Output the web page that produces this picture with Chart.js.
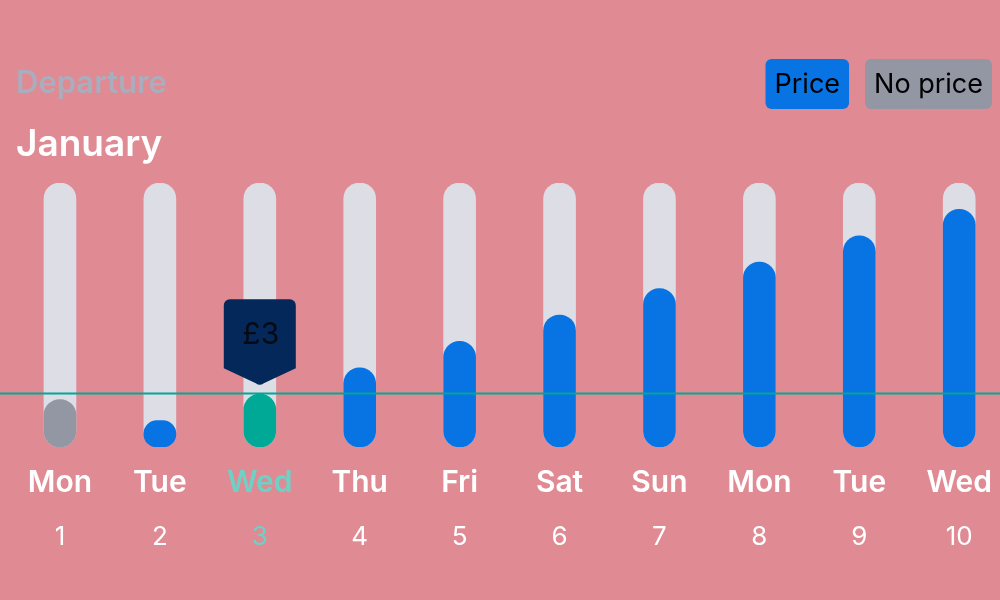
<!DOCTYPE html>
<html>
<head>
<meta charset="utf-8">
<script src="https://cdn.jsdelivr.net/npm/chart.js@4/dist/chart.umd.min.js"></script>
<style>
  html, body { margin: 0; padding: 0; background: #e08a93; overflow: hidden; width: 1000px; height: 600px; }
  #wrap { position: relative; width: 1010px; height: 600px; }
</style>
</head>
<body>
<div id="wrap"><canvas id="c" width="1010" height="600"></canvas></div>
<script>
// ---- data ----
const dayNames = ['Mon', 'Tue', 'Wed', 'Thu', 'Fri', 'Sat', 'Sun', 'Mon', 'Tue', 'Wed'];
const dayNumbers = ['1', '2', '3', '4', '5', '6', '7', '8', '9', '10'];
const prices = [null, 1.5, 3, 4.5, 6, 7.5, 9, 10.5, 12, 13.5];
const noPrice = [2.7, null, null, null, null, null, null, null, null, null];
const trackMax = [15, 15, 15, 15, 15, 15, 15, 15, 15, 15];
const selectedIndex = 2;
const currencySymbol = '£';
const titleText = 'Departure';
const subtitleText = 'January';
const legendLabels = ['Price', 'No price'];

// ---- styles ----
const C_BG = '#e08a93';
const C_TRACK = '#dcdde5';
const C_BLUE = '#0873e3';
const C_GREY = '#9396a3';
const C_TEAL = '#00a896';
const C_TEAL_TEXT = '#6fd0c6';
const C_NAVY = '#032859';
const FONT = 'Inter, "Noto Sans", sans-serif';

const overlayPlugin = {
  id: 'overlay',
  beforeDraw(chart) {
    const ctx = chart.ctx;
    ctx.save();
    ctx.fillStyle = C_BG;
    ctx.fillRect(0, 0, chart.width, chart.height);
    ctx.restore();
  },
  afterDatasetsDraw(chart) {
    const ctx = chart.ctx;
    const y = chart.scales.y;
    ctx.save();
    // reference line at selected price
    const ly = Math.round(y.getPixelForValue(prices[selectedIndex])) - 0.5;
    ctx.strokeStyle = C_TEAL;
    ctx.lineWidth = 2;
    ctx.beginPath();
    ctx.moveTo(0, ly);
    ctx.lineTo(chart.width, ly);
    ctx.stroke();

    // tooltip bubble above selected bar
    const bar = chart.getDatasetMeta(0).data[selectedIndex];
    const cx = bar.x;
    const tip = bar.y - 9;
    const w = 72, top = tip - 86, sideBottom = tip - 17, r = 6;
    const l = cx - w / 2, rt = cx + w / 2;
    ctx.fillStyle = C_NAVY;
    ctx.beginPath();
    ctx.moveTo(l + r, top);
    ctx.lineTo(rt - r, top);
    ctx.arcTo(rt, top, rt, top + r, r);
    ctx.lineTo(rt, sideBottom);
    ctx.lineTo(cx + 4, tip - 2);
    ctx.quadraticCurveTo(cx, tip + 1, cx - 4, tip - 2);
    ctx.lineTo(l, sideBottom);
    ctx.lineTo(l, top + r);
    ctx.arcTo(l, top, l + r, top, r);
    ctx.closePath();
    ctx.fill();
    ctx.fillStyle = '#050a14';
    ctx.font = '30px ' + FONT;
    ctx.textAlign = 'center';
    ctx.textBaseline = 'middle';
    ctx.fillText(currencySymbol + prices[selectedIndex], cx + 1, top + 36);

    // titles
    ctx.textAlign = 'left';
    ctx.textBaseline = 'alphabetic';
    ctx.fillStyle = '#a9adbd';
    ctx.font = '600 31px ' + FONT;
    ctx.fillText(titleText, 16, 93);
    ctx.fillStyle = '#ffffff';
    ctx.font = '600 37px ' + FONT;
    ctx.fillText(subtitleText, 16, 156);

    // legend boxes
    ctx.font = '27px ' + FONT;
    const colors = [C_BLUE, C_GREY];
    const padX = 9, boxH = 50, boxTop = 59, gap = 16;
    let right = 992;
    const widths = legendLabels.map(t => ctx.measureText(t).width + padX * 2);
    for (let i = legendLabels.length - 1; i >= 0; i--) {
      const bw = widths[i];
      const bl = right - bw;
      ctx.fillStyle = colors[i];
      ctx.beginPath();
      ctx.roundRect(bl, boxTop, bw, boxH, 6);
      ctx.fill();
      ctx.fillStyle = '#000000';
      ctx.textBaseline = 'middle';
      ctx.fillText(legendLabels[i], bl + padX, boxTop + boxH / 2 + 1);
      right = bl - gap;
    }
    ctx.restore();
  }
};

const tickColor = (ctx) => ctx.index === selectedIndex ? C_TEAL_TEXT : '#ffffff';

new Chart(document.getElementById('c'), {
  type: 'bar',
  data: {
    labels: dayNames,
    datasets: [
      {
        label: legendLabels[0],
        data: prices,
        backgroundColor: (ctx) => ctx.dataIndex === selectedIndex ? C_TEAL : C_BLUE,
        order: 1
      },
      {
        label: legendLabels[1],
        data: noPrice,
        backgroundColor: C_GREY,
        order: 2
      },
      {
        label: 'track',
        data: trackMax,
        backgroundColor: C_TRACK,
        order: 3
      }
    ]
  },
  options: {
    responsive: false,
    animation: false,
    events: [],
    layout: { padding: { top: 183, left: 10, right: 0, bottom: 31 } },
    datasets: {
      bar: {
        grouped: false,
        barThickness: 32,
        borderRadius: 16,
        borderSkipped: false,
        borderWidth: 0
      }
    },
    plugins: {
      legend: { display: false },
      tooltip: { enabled: false },
      title: { display: false }
    },
    scales: {
      y: { display: false, min: 0, max: 15 },
      x: {
        position: 'bottom',
        weight: 0,
        grid: { display: false, drawTicks: false },
        border: { display: false },
        ticks: {
          padding: 18,
          color: tickColor,
          font: { family: FONT, size: 30, weight: '600' },
          maxRotation: 0,
          autoSkip: false
        },
        afterFit: (s) => { s.height = 62; }
      },
      x2: {
        type: 'category',
        labels: dayNumbers,
        position: 'bottom',
        weight: 1,
        grid: { display: false, drawTicks: false },
        border: { display: false },
        ticks: {
          padding: 13,
          color: tickColor,
          font: { family: FONT, size: 26, weight: '400' },
          maxRotation: 0,
          autoSkip: false
        },
        afterFit: (s) => { s.height = 60; }
      }
    }
  },
  plugins: [overlayPlugin]
});
</script>
</body>
</html>
